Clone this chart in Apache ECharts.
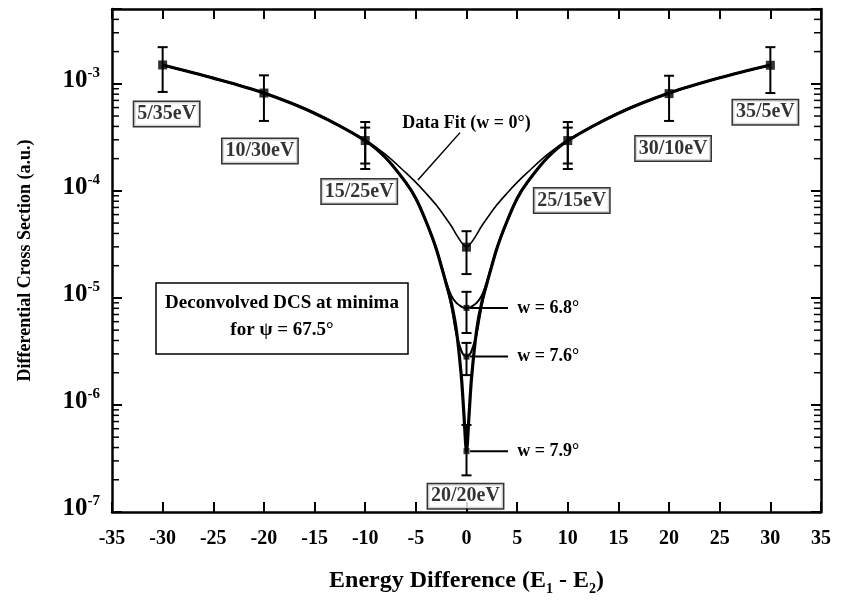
<!DOCTYPE html>
<html>
<head>
<meta charset="utf-8">
<script src="https://cdn.jsdelivr.net/npm/echarts@6/dist/echarts.min.js"></script>
<style>
  html, body { margin: 0; padding: 0; background: #fff; }
  #main { width: 841px; height: 601px; }
</style>
</head>
<body>
<div id="main"></div>
<script>
//能量差 (E1 - E2)
var energy = [-30, -25, -20, -15, -10, -8, -6, -5, -4, -3, -2, -1.5, -1, -0.5, -0.25, 0,
              0.25, 0.5, 1, 1.5, 2, 3, 4, 5, 6, 8, 10, 15, 20, 25, 30];
//拟合曲线 w = 0
var fitW0 = [1.5e-3, 1.13e-3, 8.2e-4, 5.4e-4, 2.98e-4, 2.19e-4, 1.48e-4, 1.2e-4, 9.5e-5, 7.4e-5, 5.5e-5, 4.7e-5, 3.9e-5, 3.3e-5, 3.1e-5, 2.98e-5,
             3.1e-5, 3.3e-5, 3.9e-5, 4.7e-5, 5.5e-5, 7.4e-5, 9.5e-5, 1.2e-4, 1.48e-4, 2.19e-4, 2.98e-4, 5.4e-4, 8.2e-4, 1.14e-3, 1.5e-3];
//w = 6.8
var fitW68 = [1.5e-3, 1.13e-3, 8.2e-4, 5.3e-4, 2.95e-4, 2.05e-4, 1.2e-4, 8.5e-5, 5.2e-5, 2.9e-5, 1.4e-5, 1.05e-5, 9.0e-6, 8.3e-6, 8.1e-6, 8.07e-6,
              8.1e-6, 8.3e-6, 9.0e-6, 1.05e-5, 1.4e-5, 2.9e-5, 5.2e-5, 8.5e-5, 1.2e-4, 2.05e-4, 2.95e-4, 5.3e-4, 8.2e-4, 1.14e-3, 1.5e-3];
//w = 7.6
var fitW76 = [1.5e-3, 1.13e-3, 8.2e-4, 5.3e-4, 2.95e-4, 2.05e-4, 1.2e-4, 8.5e-5, 5.2e-5, 2.9e-5, 1.35e-5, 8.5e-6, 4.6e-6, 3.2e-6, 2.9e-6, 2.83e-6,
              2.9e-6, 3.2e-6, 4.6e-6, 8.5e-6, 1.35e-5, 2.9e-5, 5.2e-5, 8.5e-5, 1.2e-4, 2.05e-4, 2.95e-4, 5.3e-4, 8.2e-4, 1.14e-3, 1.5e-3];
//w = 7.9
var fitW79 = [1.5e-3, 1.13e-3, 8.2e-4, 5.3e-4, 2.95e-4, 2.05e-4, 1.2e-4, 8.5e-5, 5.2e-5, 2.9e-5, 1.35e-5, 9.0e-6, 5.0e-6, 1.8e-6, 8.0e-7, 3.7e-7,
              8.0e-7, 1.8e-6, 5.0e-6, 9.0e-6, 1.35e-5, 2.9e-5, 5.2e-5, 8.5e-5, 1.2e-4, 2.05e-4, 2.95e-4, 5.3e-4, 8.2e-4, 1.14e-3, 1.5e-3];

//测量点
var measX   = [-30, -20, -10, 0, 10, 20, 30];
var measY   = [1.5e-3, 8.2e-4, 2.95e-4, 2.98e-5, 2.95e-4, 8.1e-4, 1.49e-3];
var measLo  = [8.4e-4, 4.5e-4, 1.6e-4, 1.67e-5, 1.6e-4, 4.5e-4, 8.2e-4];
var measHi  = [2.2e-3, 1.2e-3, 4.4e-4, 4.2e-5, 4.4e-4, 1.19e-3, 2.2e-3];
//±10 处第二组误差棒
var secX  = [-10, 10];
var secLo = [1.8e-4, 1.8e-4];
var secHi = [3.9e-4, 3.9e-4];
//极小值处反卷积点
var minW    = ['w = 6.8°', 'w = 7.6°', 'w = 7.9°'];
var minY    = [8.07e-6, 2.83e-6, 3.7e-7];
var minLo   = [4.7e-6, 1.9e-6, 2.2e-7];
var minHi   = [1.14e-5, 3.8e-6, 6.5e-7];

//能量标签
var pairNames = ['5/35eV', '10/30eV', '15/25eV', '20/20eV', '25/15eV', '30/10eV', '35/5eV'];
var pairX     = [-30, -20, -10, 0, 10, 20, 30];
var pairY     = [1.5e-3, 8.2e-4, 2.95e-4, 3.7e-7, 2.95e-4, 8.1e-4, 1.49e-3];

var yTickMin = 1e-7, yTickMax = 5e-3;

var serif = '"Liberation Serif", "DejaVu Serif", serif';

function zip(xs, ys) {
    var out = [];
    for (var i = 0; i < xs.length; i++) out.push([xs[i], ys[i]]);
    return out;
}

//误差棒
function renderErr(params, api) {
    var x = api.value(0);
    var pLo = api.coord([x, api.value(1)]);
    var pHi = api.coord([x, api.value(2)]);
    var w = 5;
    var st = { stroke: '#000', lineWidth: 2 };
    return {
        type: 'group',
        children: [
            { type: 'line', shape: { x1: pLo[0], y1: pLo[1], x2: pHi[0], y2: pHi[1] }, style: st },
            { type: 'line', shape: { x1: pLo[0] - w, y1: pLo[1], x2: pLo[0] + w, y2: pLo[1] }, style: st },
            { type: 'line', shape: { x1: pHi[0] - w, y1: pHi[1], x2: pHi[0] + w, y2: pHi[1] }, style: st }
        ]
    };
}

//对数轴次刻度
function renderMinor(params, api) {
    var v = api.value(1);
    var pL = api.coord([-35, v]);
    var pR = api.coord([35, v]);
    var st = { stroke: '#000', lineWidth: 1.5 };
    return {
        type: 'group',
        children: [
            { type: 'line', shape: { x1: pL[0], y1: pL[1], x2: pL[0] + 7, y2: pL[1] }, style: st },
            { type: 'line', shape: { x1: pR[0] - 7, y1: pR[1], x2: pR[0], y2: pR[1] }, style: st }
        ]
    };
}

var minorTicks = [];
for (var d = -7; d <= -3; d++) {
    for (var m = 2; m <= 9; m++) {
        var tv = m * Math.pow(10, d);
        if (tv < yTickMax) minorTicks.push([0, tv]);
    }
}

function errData(xs, lo, hi) {
    var out = [];
    for (var i = 0; i < xs.length; i++) out.push([xs[i], lo[i], hi[i]]);
    return out;
}

var labelOffsets = [[4, 49], [-4, 58], [-6, 51], [-1, 45], [4, 60], [4, 55], [-5, 47]];
var pairData = [];
for (var i = 0; i < pairNames.length; i++) {
    pairData.push({ name: pairNames[i], value: [pairX[i], pairY[i]], label: { offset: labelOffsets[i] } });
}

var chart = echarts.init(document.getElementById('main'));

function lineSeries(name, data, width) {
    return {
        name: name,
        type: 'line',
        data: zip(energy, data),
        showSymbol: false,
        smooth: 0.3,
        lineStyle: { color: '#000', width: width },
        z: 3
    };
}

option = {
    animation: false,
    backgroundColor: '#fff',
    grid: { left: 112, right: 20, top: 9, bottom: 88 },
    xAxis: [{
        type: 'value',
        min: -35, max: 35, interval: 5,
        axisLine: { onZero: false, lineStyle: { color: '#000', width: 2.5 } },
        axisTick: { inside: true, length: 10, lineStyle: { color: '#000', width: 2 } },
        axisLabel: { color: '#000', fontFamily: serif, fontSize: 20, fontWeight: 'bold', margin: 17 },
        splitLine: { show: false },
        name: 'Energy Difference (E{sub|1} - E{sub|2})',
        nameLocation: 'middle',
        nameGap: 53,
        nameTextStyle: {
            color: '#000', fontFamily: serif, fontSize: 24, fontWeight: 'bold',
            rich: { sub: { fontFamily: serif, fontSize: 14, fontWeight: 'bold', color: '#000', padding: [17, 0, 0, 0] } }
        }
    }, {
        type: 'value', position: 'top',
        min: -35, max: 35, interval: 5,
        axisLine: { onZero: false, lineStyle: { color: '#000', width: 2.5 } },
        axisTick: { inside: true, length: 10, lineStyle: { color: '#000', width: 2 } },
        axisLabel: { show: false },
        splitLine: { show: false }
    }],
    yAxis: [{
        type: 'log', logBase: 10,
        min: yTickMin, max: yTickMax,
        axisLine: { show: true, onZero: false, lineStyle: { color: '#000', width: 2.5 } },
        axisTick: { inside: true, length: 10, lineStyle: { color: '#000', width: 2 } },
        axisLabel: {
            color: '#000', margin: 12,
            formatter: function (v) {
                var e = Math.log10(v);
                var r = Math.round(e);
                if (Math.abs(e - r) > 1e-6) return '';
                return '{b|10}{s|' + r + '}';
            },
            rich: {
                b: { fontFamily: serif, fontSize: 25, fontWeight: 'bold', color: '#000', padding: [0, 0, 6, 0] },
                s: { fontFamily: serif, fontSize: 15, fontWeight: 'bold', color: '#000', padding: [0, 0, 22, 0] }
            }
        },
        splitLine: { show: false },
        name: 'Differential Cross Section (a.u.)',
        nameLocation: 'middle',
        nameGap: 78,
        nameTextStyle: { color: '#000', fontFamily: serif, fontSize: 18, fontWeight: 'bold' }
    }, {
        type: 'log', logBase: 10, position: 'right',
        min: yTickMin, max: yTickMax,
        axisLine: { show: true, onZero: false, lineStyle: { color: '#000', width: 2.5 } },
        axisTick: { inside: true, length: 10, lineStyle: { color: '#000', width: 2 } },
        axisLabel: { show: false },
        splitLine: { show: false }
    }],
    series: [
        lineSeries('Data Fit (w = 0°)', fitW0, 1.6),
        lineSeries('w = 6.8°', fitW68, 2),
        lineSeries('w = 7.6°', fitW76, 2),
        lineSeries('w = 7.9°', fitW79, 3.2),
        {
            type: 'custom',
            renderItem: renderErr,
            encode: { x: 0, y: [1, 2] },
            data: errData(measX, measLo, measHi).concat(errData(secX, secLo, secHi))
                .concat(errData([0, 0, 0], minLo, minHi)),
            clip: false,
            z: 4
        },
        {
            type: 'scatter',
            symbol: 'rect',
            symbolSize: 9,
            itemStyle: { color: '#000' },
            data: zip(measX, measY),
            z: 5
        },
        {
            type: 'scatter',
            symbol: 'rect',
            symbolSize: 6,
            itemStyle: { color: '#000' },
            data: zip([0, 0, 0], minY),
            z: 5
        },
        {
            type: 'custom',
            renderItem: renderMinor,
            encode: { x: 0, y: 1 },
            data: minorTicks,
            clip: false,
            silent: true,
            z: 6
        },
        {
            type: 'scatter',
            symbolSize: 0,
            data: pairData,
            label: {
                show: true,
                position: 'inside',
                formatter: '{b}',
                color: '#000',
                fontFamily: serif,
                fontSize: 20,
                fontWeight: 'bold',
                backgroundColor: '#fff',
                borderColor: '#000',
                borderWidth: 1.5,
                padding: [3, 3, 1, 3]
            },
            z: 7
        }
    ]
};
chart.setOption(option);

//注释线和文字
function px(x, y) { return chart.convertToPixel({ gridIndex: 0 }, [x, y]); }
var g = [];
var a1 = px(-4.8, 1.26e-4), a2 = px(-0.64, 3.5e-4), at = px(0, 4.3e-4);
g.push({ type: 'line', shape: { x1: a1[0], y1: a1[1], x2: a2[0], y2: a2[1] }, style: { stroke: '#000', lineWidth: 1.5 }, z: 10 });
g.push({ type: 'text', x: at[0], y: at[1], style: { text: 'Data Fit (w = 0°)', font: 'bold 18px ' + serif, fill: '#000', align: 'center', verticalAlign: 'middle' }, z: 10 });
for (var k = 0; k < minW.length; k++) {
    var l1 = px(0.35, minY[k]), l2 = px(4.1, minY[k]), lt = px(5.0, minY[k]);
    g.push({ type: 'line', shape: { x1: l1[0], y1: l1[1], x2: l2[0], y2: l2[1] }, style: { stroke: '#000', lineWidth: 2 }, z: 10 });
    g.push({ type: 'text', x: lt[0], y: lt[1], style: { text: minW[k], font: 'bold 18px ' + serif, fill: '#000', align: 'left', verticalAlign: 'middle' }, z: 10 });
}
g.push({ type: 'rect', shape: { x: 156, y: 283, width: 252, height: 71 }, style: { fill: '#fff', stroke: '#000', lineWidth: 1.5 }, z: 10 });
g.push({ type: 'text', x: 282, y: 317, style: { text: 'Deconvolved DCS at minima\nfor ψ = 67.5°', font: 'bold 19px ' + serif, lineHeight: 27, fill: '#000', align: 'center', verticalAlign: 'middle' }, z: 11 });
chart.setOption({ graphic: g });
</script>
</body>
</html>
